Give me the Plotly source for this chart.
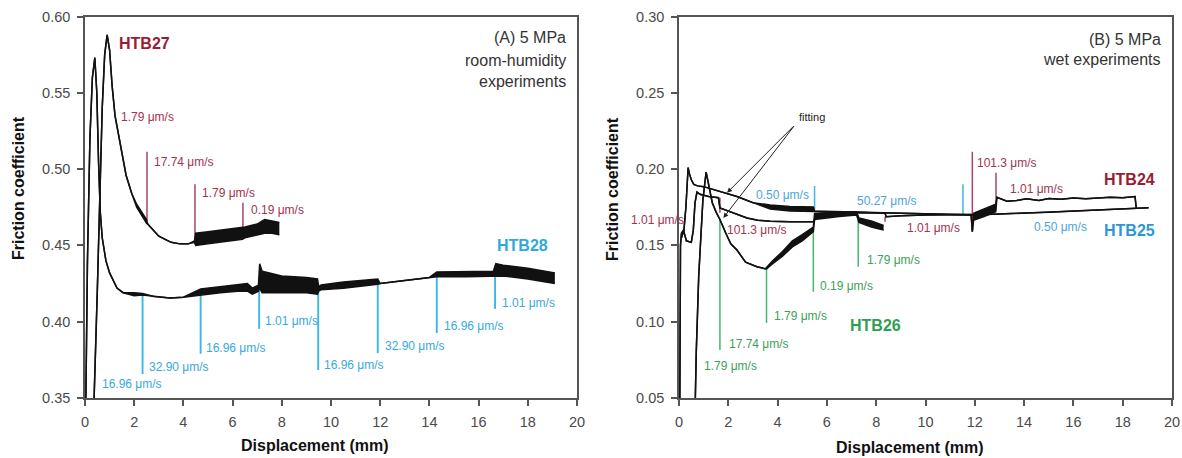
import plotly.graph_objects as go

FONT = "Arial, Liberation Sans, Helvetica, sans-serif"
BLACK = "#111111"
RED_LINE = "#a8456a"
RED_TXT = "#a3324f"
RED_BOLD = "#9b1b34"
CYAN_LINE = "#3ab8e2"
CYAN_TXT = "#37a9dc"
CYAN_BOLD = "#2fa8dc"
GREEN_LINE = "#48b56e"
GREEN_TXT = "#3c9f5c"
GREEN_BOLD = "#2e9f52"
BLUE_TXT = "#4aa6da"
BLUE_BOLD = "#2d97d6"

# ================= Panel A : room-humidity =================
htb27_x = [0.30, 0.37, 0.5, 0.6, 0.7, 0.8, 0.9, 1.0, 1.1, 1.22, 1.42, 1.67, 1.9, 2.1, 2.5, 2.55,
           3.0, 3.5, 3.86, 4.2, 4.45, 4.5, 5.0, 5.5, 6.0, 6.4, 6.5, 7.0, 7.3, 7.6, 7.9]
htb27_lo = [0.33, 0.35, 0.42, 0.48, 0.54, 0.575, 0.588, 0.578, 0.555, 0.535, 0.518, 0.496, 0.484, 0.475, 0.4645, 0.464,
            0.456, 0.452, 0.451, 0.451, 0.452, 0.450, 0.451, 0.452, 0.453, 0.454, 0.455, 0.457, 0.458, 0.458, 0.457]
htb27_hi = [0.33, 0.35, 0.42, 0.48, 0.54, 0.575, 0.588, 0.578, 0.555, 0.535, 0.518, 0.496, 0.484, 0.477, 0.4670, 0.464,
            0.456, 0.452, 0.451, 0.451, 0.453, 0.458, 0.459, 0.460, 0.461, 0.462, 0.462, 0.464, 0.467, 0.466, 0.465]

htb28_x = [0.0, 0.05, 0.1, 0.2, 0.3, 0.4, 0.48, 0.55, 0.62, 0.7, 0.85, 1.0, 1.14, 1.3, 1.55, 2.0, 2.34, 2.8,
           3.45, 4.0, 4.7, 5.5, 6.2, 6.6, 6.8, 7.05, 7.1, 7.2, 8.0, 9.0, 9.45, 9.5, 9.6, 10.5, 11.9, 12.0,
           13.0, 14.0, 14.3, 15.5, 16.6, 16.7, 17.0, 18.0, 19.1]
htb28_lo = [0.30, 0.38, 0.44, 0.52, 0.56, 0.573, 0.55, 0.505, 0.472, 0.455, 0.440, 0.432, 0.427, 0.422, 0.419, 0.417, 0.4175, 0.4165,
            0.4155, 0.416, 0.4175, 0.419, 0.420, 0.420, 0.418, 0.420, 0.422, 0.419, 0.419, 0.419, 0.418, 0.420, 0.421, 0.422, 0.4245, 0.425,
            0.427, 0.429, 0.4295, 0.4295, 0.4300, 0.430, 0.430, 0.428, 0.425]
htb28_hi = [0.30, 0.38, 0.44, 0.52, 0.56, 0.573, 0.55, 0.505, 0.472, 0.455, 0.440, 0.432, 0.427, 0.422, 0.419, 0.419, 0.4185, 0.4165,
            0.4155, 0.416, 0.4215, 0.423, 0.424, 0.425, 0.422, 0.424, 0.438, 0.433, 0.430, 0.429, 0.428, 0.423, 0.424, 0.426, 0.428, 0.425,
            0.427, 0.429, 0.4325, 0.433, 0.433, 0.438, 0.437, 0.435, 0.432]

# velocity-step markers, panel A
a_red_x = [2.52, 4.47, 6.42]
a_red_top = [0.5114, 0.490, 0.478]
a_red_bot = [0.466, 0.451, 0.455]
a_red_lbl = ["1.79 μm/s", "17.74 μm/s", "1.79 μm/s", "0.19 μm/s"]
a_red_lbl_x = [1.38, 2.72, 4.67, 6.67]
a_red_lbl_y = [0.5344, 0.5049, 0.4845, 0.4734]

a_cyan_x = [2.34, 4.70, 7.08, 9.48, 11.9, 14.3, 16.67]
a_cyan_top = [0.418, 0.419, 0.423, 0.421, 0.426, 0.430, 0.432]
a_cyan_bot = [0.3657, 0.379, 0.3953, 0.3683, 0.3795, 0.3926, 0.4084]
a_cyan_lbl = ["16.96 μm/s", "32.90 μm/s", "16.96 μm/s", "1.01 μm/s", "16.96 μm/s",
              "32.90 μm/s", "16.96 μm/s", "1.01 μm/s"]
a_cyan_lbl_x = [0.61, 2.52, 4.84, 7.24, 9.63, 12.11, 14.51, 16.87]
a_cyan_lbl_y = [0.3592, 0.3704, 0.3828, 0.4005, 0.3716, 0.3841, 0.3972, 0.4123]

# ================= Panel B : wet =================
htb24_x = [0.02, 0.04, 0.06, 0.1, 0.18, 0.3, 0.5, 0.58, 0.65, 0.73, 0.85, 1.2, 1.6, 1.66, 2.0, 2.4, 2.76, 3.2,
           3.7, 4.5, 5.45, 5.55, 6.4, 7.06, 8.0, 8.36, 8.4, 9.0, 10.0, 11.0, 11.85, 11.9, 11.95, 12.4, 12.85,
           12.9, 13.3, 13.7, 14.1, 14.6, 15.0, 15.5, 16.0, 16.5, 17.0, 17.5, 18.0, 18.5, 18.55]
htb24_lo = [0.0, 0.10, 0.150, 0.158, 0.160, 0.153, 0.152, 0.160, 0.178, 0.185, 0.1835, 0.182, 0.1812, 0.1745, 0.1725, 0.1705, 0.168, 0.1665,
            0.1658, 0.1655, 0.1655, 0.168, 0.1705, 0.1715, 0.1715, 0.1712, 0.1688, 0.1695, 0.170, 0.1702, 0.1702, 0.159, 0.1665, 0.169, 0.172,
            0.1815, 0.179, 0.1795, 0.1805, 0.1795, 0.1808, 0.1803, 0.181, 0.1805, 0.1812, 0.1815, 0.1813, 0.182, 0.1745]
htb24_hi = [0.0, 0.10, 0.150, 0.158, 0.160, 0.153, 0.152, 0.160, 0.178, 0.185, 0.1835, 0.182, 0.1812, 0.1745, 0.1725, 0.1705, 0.168, 0.1665,
            0.1658, 0.1655, 0.1655, 0.168, 0.1705, 0.1715, 0.1715, 0.1712, 0.1688, 0.1695, 0.170, 0.1702, 0.1702, 0.159, 0.171, 0.174, 0.177,
            0.1815, 0.179, 0.1795, 0.1805, 0.1795, 0.1808, 0.1803, 0.181, 0.1805, 0.1812, 0.1815, 0.1813, 0.182, 0.1745]

htb25_x = [0.1, 0.2, 0.28, 0.33, 0.37, 0.42, 0.5, 0.6, 0.75, 1.0, 1.3, 1.66, 2.0, 2.35, 3.0, 3.7, 4.5, 5.45,
           5.5, 7.0, 9.0, 11.5, 11.9, 13.0, 15.0, 17.0, 19.05]
htb25_lo = [0.155, 0.160, 0.175, 0.193, 0.201, 0.197, 0.193, 0.190, 0.189, 0.1885, 0.187, 0.185, 0.1835, 0.182, 0.178, 0.1738, 0.1725, 0.1722,
            0.1725, 0.172, 0.1712, 0.1702, 0.170, 0.1705, 0.1718, 0.1732, 0.1747]
htb25_hi = [0.155, 0.160, 0.175, 0.193, 0.201, 0.197, 0.193, 0.190, 0.189, 0.1885, 0.187, 0.185, 0.1835, 0.182, 0.178, 0.1765, 0.1755, 0.1752,
            0.1725, 0.172, 0.1712, 0.1702, 0.170, 0.1705, 0.1718, 0.1732, 0.1747]

htb26_x = [0.6, 0.7, 0.8, 0.9, 0.97, 1.1, 1.2, 1.35, 1.5, 1.66, 1.9, 2.1, 2.35, 2.7, 3.16, 3.5, 3.55, 3.8, 4.2,
           4.6, 5.0, 5.45, 5.5, 6.5, 7.2, 7.3, 7.8, 8.3]
htb26_lo = [0.0, 0.08, 0.13, 0.16, 0.18, 0.198, 0.19, 0.178, 0.172, 0.167, 0.158, 0.151, 0.147, 0.139, 0.136, 0.1346, 0.1346, 0.138, 0.143,
            0.149, 0.153, 0.159, 0.167, 0.169, 0.170, 0.165, 0.162, 0.160]
htb26_hi = [0.0, 0.08, 0.13, 0.16, 0.18, 0.198, 0.19, 0.178, 0.172, 0.167, 0.158, 0.151, 0.147, 0.139, 0.136, 0.1346, 0.1356, 0.140, 0.146,
            0.153, 0.157, 0.162, 0.171, 0.172, 0.172, 0.168, 0.166, 0.163]

b_red_x = [1.66, 8.36, 11.9, 12.86]
b_red_top = [0.1812, 0.1688, 0.2114, 0.1976]
b_red_bot = [0.1714, 0.1655, 0.160, 0.1734]
b_red_lbl = ["1.01 μm/s", "101.3 μm/s", "1.01 μm/s", "101.3 μm/s", "1.01 μm/s"]
b_red_lbl_x = [0.28, 1.87, 9.17, 12.01, 13.35]
b_red_lbl_y = [0.1668, 0.1602, 0.1615, 0.2042, 0.1871]
b_red_lbl_anchor = ["right", "left", "left", "left", "left"]

b_blue_x = [5.5, 11.52]
b_blue_top = [0.189, 0.190]
b_blue_bot = [0.1734, 0.170]
b_blue_lbl = ["0.50 μm/s", "50.27 μm/s", "0.50 μm/s"]
b_blue_lbl_x = [3.04, 7.14, 14.32]
b_blue_lbl_y = [0.1832, 0.1793, 0.1622]

b_green_x = [1.66, 3.55, 5.45, 7.27]
b_green_top = [0.167, 0.135, 0.161, 0.170]
b_green_bot = [0.0815, 0.0992, 0.1196, 0.136]
b_green_lbl = ["1.79 μm/s", "17.74 μm/s", "1.79 μm/s", "0.19 μm/s", "1.79 μm/s"]
b_green_lbl_x = [0.93, 1.95, 3.77, 5.64, 7.55]
b_green_lbl_y = [0.0710, 0.0854, 0.1038, 0.1235, 0.1406]

fig = go.Figure()


def vlines(xs, tops, bots, color, xa, ya, width=1.5):
    X, Y = [], []
    for x, a, b in zip(xs, tops, bots):
        X += [x, x, None]
        Y += [a, b, None]
    fig.add_trace(go.Scatter(x=X, y=Y, mode="lines", line=dict(color=color, width=width),
                             xaxis=xa, yaxis=ya, showlegend=False, hoverinfo="skip"))


def curve(x, lo, hi, xa, ya):
    fig.add_trace(go.Scatter(x=x, y=lo, mode="lines", line=dict(color=BLACK, width=1.5),
                             xaxis=xa, yaxis=ya, showlegend=False, hoverinfo="skip"))
    fig.add_trace(go.Scatter(x=x, y=hi, mode="lines", line=dict(color=BLACK, width=1.5),
                             fill="tonexty", fillcolor=BLACK,
                             xaxis=xa, yaxis=ya, showlegend=False, hoverinfo="skip"))


vlines(a_red_x, a_red_top, a_red_bot, RED_LINE, "x", "y")
vlines(a_cyan_x, a_cyan_top, a_cyan_bot, CYAN_LINE, "x", "y", 1.9)
curve(htb27_x, htb27_lo, htb27_hi, "x", "y")
curve(htb28_x, htb28_lo, htb28_hi, "x", "y")

vlines(b_red_x, b_red_top, b_red_bot, RED_LINE, "x2", "y2")
vlines(b_blue_x, b_blue_top, b_blue_bot, CYAN_LINE, "x2", "y2")
vlines(b_green_x, b_green_top, b_green_bot, GREEN_LINE, "x2", "y2")
curve(htb25_x, htb25_lo, htb25_hi, "x2", "y2")
curve(htb24_x, htb24_lo, htb24_hi, "x2", "y2")
curve(htb26_x, htb26_lo, htb26_hi, "x2", "y2")

ann = []


def label(text, x, y, color, xref, yref, size=12, anchor="left", bold=False):
    t = f"<b>{text}</b>" if bold else text
    ann.append(dict(text=t, x=x, y=y, xref=xref, yref=yref, xanchor=anchor, yanchor="middle",
                    showarrow=False, font=dict(family=FONT, size=size, color=color)))


for t, x, y in zip(a_red_lbl, a_red_lbl_x, a_red_lbl_y):
    label(t, x, y, RED_TXT, "x", "y")
for t, x, y in zip(a_cyan_lbl, a_cyan_lbl_x, a_cyan_lbl_y):
    label(t, x, y, CYAN_TXT, "x", "y")
label("HTB27", 1.3, 0.5823, RED_BOLD, "x", "y", 16, "left", True)
label("HTB28", 18.9, 0.4497, CYAN_BOLD, "x", "y", 16, "right", True)
label("(A) 5 MPa", 19.63, 0.5862, "#333333", "x", "y", 16, "right")
label("room-humidity", 19.63, 0.5711, "#333333", "x", "y", 16, "right")
label("experiments", 19.63, 0.5574, "#333333", "x", "y", 16, "right")

for t, x, y, a in zip(b_red_lbl, b_red_lbl_x, b_red_lbl_y, b_red_lbl_anchor):
    label(t, x, y, RED_TXT, "x2", "y2", anchor=a)
for t, x, y in zip(b_blue_lbl, b_blue_lbl_x, b_blue_lbl_y):
    label(t, x, y, BLUE_TXT, "x2", "y2")
for t, x, y in zip(b_green_lbl, b_green_lbl_x, b_green_lbl_y):
    label(t, x, y, GREEN_TXT, "x2", "y2")
label("HTB24", 19.39, 0.193, RED_BOLD, "x2", "y2", 16, "right", True)
label("HTB25", 19.39, 0.1596, BLUE_BOLD, "x2", "y2", 16, "right", True)
label("HTB26", 6.86, 0.0972, GREEN_BOLD, "x2", "y2", 16, "left", True)
label("(B) 5 MPa", 19.63, 0.2849, "#333333", "x2", "y2", 16, "right")
label("wet experiments", 19.63, 0.2718, "#333333", "x2", "y2", 16, "right")
label("fitting", 5.4, 0.2344, "#222222", "x2", "y2", 11, "center")

for hx, hy in [(1.95, 0.1845), (1.8, 0.168)]:
    ann.append(dict(x=hx, y=hy, xref="x2", yref="y2", ax=4.71, ay=0.2291, axref="x2", ayref="y2",
                    showarrow=True, arrowhead=2, arrowsize=1, arrowwidth=1, arrowcolor="#222222", text=""))

title_font = dict(family=FONT, size=16, color="#111111")
ann.append(dict(text="<b>Friction coefficient</b>", x=18 / 1182, y=1 - 188 / 458, xref="paper", yref="paper",
                textangle=-90, showarrow=False, font=title_font, xanchor="center", yanchor="middle"))
ann.append(dict(text="<b>Displacement (mm)</b>", x=315 / 1182, y=1 - 445 / 458, xref="paper", yref="paper",
                showarrow=False, font=title_font, xanchor="center", yanchor="middle"))
ann.append(dict(text="<b>Friction coefficient</b>", x=612 / 1182, y=1 - 189 / 458, xref="paper", yref="paper",
                textangle=-90, showarrow=False, font=title_font, xanchor="center", yanchor="middle"))
ann.append(dict(text="<b>Displacement (mm)</b>", x=910 / 1182, y=1 - 447 / 458, xref="paper", yref="paper",
                showarrow=False, font=title_font, xanchor="center", yanchor="middle"))

axc = dict(showline=True, linecolor="#555555", linewidth=1.5, mirror=True, ticks="outside", ticklen=6,
           tickwidth=1.5, tickcolor="#555555", showgrid=False, zeroline=False, ticklabelstandoff=4,
           automargin=False, tickfont=dict(family=FONT, size=14.5, color="#4a4a4a"))
ydom = [1 - 398 / 458, 1 - 16.5 / 458]
fig.update_layout(
    width=1182, height=458, autosize=False,
    margin=dict(l=0, r=0, t=0, b=0, pad=0, autoexpand=False),
    plot_bgcolor="white", paper_bgcolor="white",
    xaxis=dict(domain=[85 / 1182, 577 / 1182], range=[0, 20], dtick=2, anchor="y", **axc),
    yaxis=dict(domain=ydom, range=[0.35, 0.60], dtick=0.05, tickformat=".2f", anchor="x", **axc),
    xaxis2=dict(domain=[679 / 1182, 1172 / 1182], range=[0, 20], dtick=2, anchor="y2", **axc),
    yaxis2=dict(domain=ydom, range=[0.05, 0.30], dtick=0.05, tickformat=".2f", anchor="x2", **axc),
    annotations=ann,
)

fig.write_html("out.html", config={"displayModeBar": False, "responsive": False},
               post_script="document.body.style.margin='0';document.body.style.overflow='hidden';")
